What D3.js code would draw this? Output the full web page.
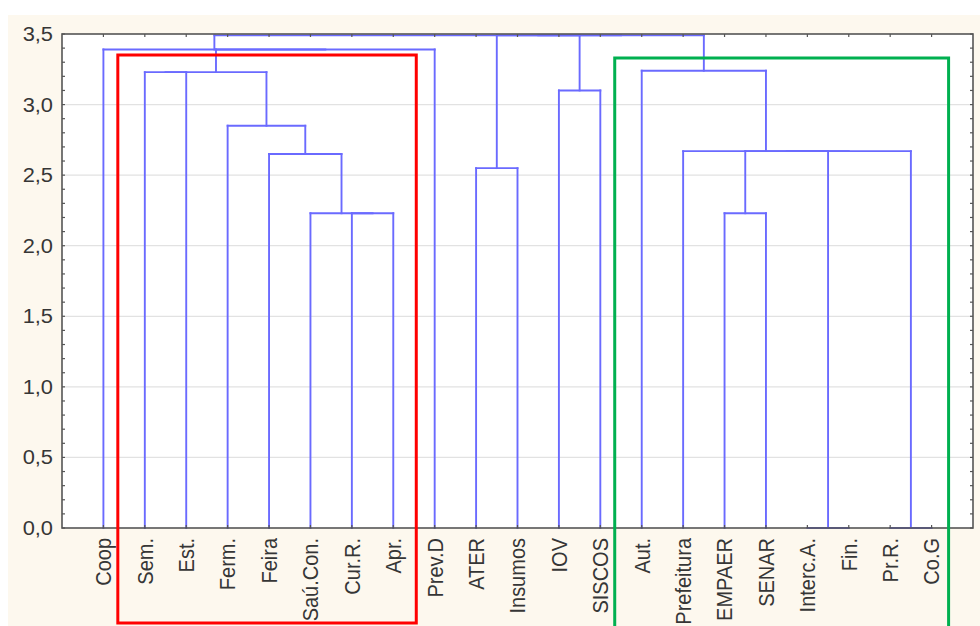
<!DOCTYPE html>
<html>
<head>
<meta charset="utf-8">
<script src="https://cdn.jsdelivr.net/npm/d3@7"></script>
<style>
  html, body { margin: 0; padding: 0; background: #ffffff; }
  svg { display: block; }
  text { font-family: "Liberation Sans", Arial, sans-serif; fill: #363636; }
</style>
</head>
<body>
<svg id="chart" width="980" height="626"></svg>
<script>
// Leaf order along the x axis
const leaves = ["Coop", "Sem.", "Est.", "Ferm.", "Feira", "Saú.Con.", "Cur.R.", "Apr.", "Prev.D",
  "ATER", "Insumos", "IOV", "SISCOS", "Aut.", "Prefeitura", "EMPAER", "SENAR",
  "Interc.A.", "Fin.", "Pr.R.", "Co.G"];

// Agglomeration steps: ids 0..20 are leaves, step k creates node 21+k
const mergeLeft   = [17, 19, 6, 5, 15, 9, 4, 25, 28, 14, 3, 11, 1, 33, 13, 34, 0, 26, 38, 37];
const mergeRight  = [18, 20, 7, 23, 16, 10, 24, 21, 22, 29, 27, 12, 2, 31, 30, 8, 36, 32, 35, 39];
const mergeHeight = [0, 0, 2.23, 2.23, 2.23, 2.55, 2.65, 2.67, 2.67, 2.67, 2.85, 3.10, 3.23, 3.23, 3.24, 3.39, 3.39, 3.49, 3.49, 3.49];

// Linkage distance axis
const yTicks = [0, 0.5, 1.0, 1.5, 2.0, 2.5, 3.0, 3.5];
const yMinorStep = 0.1;

// Highlighted groups: [first leaf, last leaf]
const groupRed = ["Sem.", "Apr."];
const groupGreen = ["Aut.", "Co.G"];

const svg = d3.select("#chart");
const W = 980, H = 626;
const plot = { left: 62, right: 973, top: 34, bottom: 528 };

// page background
svg.append("rect").attr("width", W).attr("height", H).attr("fill", "#ffffff");
svg.append("rect").attr("x", 8).attr("y", 15).attr("width", W - 8).attr("height", H - 15).attr("fill", "#fdf8ee");
svg.append("rect")
  .attr("x", plot.left).attr("y", plot.top)
  .attr("width", plot.right - plot.left).attr("height", plot.bottom - plot.top)
  .attr("fill", "#ffffff");

const x = d3.scalePoint().domain(leaves).range([plot.left, plot.right]).padding(1);
const y = d3.scaleLinear().domain([0, 3.5]).range([plot.bottom, plot.top]);

// grid lines
svg.append("g").selectAll("line").data(yTicks.slice(1, -1)).join("line")
  .attr("x1", plot.left).attr("x2", plot.right)
  .attr("y1", d => y(d)).attr("y2", d => y(d))
  .attr("stroke", "#e2e2e2").attr("stroke-width", 1.2);

// node positions: leaves sit on the point scale, clusters at the mean of their two children
const nodeX = leaves.map(d => x(d));
const nodeH = leaves.map(() => 0);
mergeLeft.forEach((l, i) => {
  const r = mergeRight[i];
  nodeX.push((nodeX[l] + nodeX[r]) / 2);
  nodeH.push(mergeHeight[i]);
});

// dendrogram links
const segs = [];
mergeLeft.forEach((l, i) => {
  const r = mergeRight[i];
  const h = mergeHeight[i];
  segs.push([nodeX[l], h, nodeX[r], h]);
  segs.push([nodeX[l], nodeH[l], nodeX[l], h]);
  segs.push([nodeX[r], nodeH[r], nodeX[r], h]);
});
svg.append("g").selectAll("line").data(segs.filter(s => !(s[0] === s[2] && s[1] === s[3]))).join("line")
  .attr("x1", s => s[0]).attr("y1", s => y(s[1]))
  .attr("x2", s => s[2]).attr("y2", s => y(s[3]))
  .attr("stroke", "#6a6aff").attr("stroke-width", 1.9).attr("stroke-linecap", "square");

// frame
svg.append("rect")
  .attr("x", plot.left).attr("y", plot.top)
  .attr("width", plot.right - plot.left).attr("height", plot.bottom - plot.top)
  .attr("fill", "none").attr("stroke", "#555").attr("stroke-width", 1.6);

// inner ticks
const minor = d3.range(0, 3.5001, yMinorStep);
const tickG = svg.append("g").attr("stroke", "#555").attr("stroke-width", 1.2);
minor.forEach(v => {
  const len = 3;
  tickG.append("line").attr("x1", plot.left).attr("x2", plot.left + len).attr("y1", y(v)).attr("y2", y(v));
  tickG.append("line").attr("x1", plot.right).attr("x2", plot.right - len).attr("y1", y(v)).attr("y2", y(v));
});
leaves.forEach(d => {
  tickG.append("line").attr("x1", x(d)).attr("x2", x(d)).attr("y1", plot.top).attr("y2", plot.top + 3);
  tickG.append("line").attr("x1", x(d)).attr("x2", x(d)).attr("y1", plot.bottom).attr("y2", plot.bottom - 3);
});

// y tick labels
const fmt = v => d3.format(".1f")(v).replace(".", ",");
svg.append("g").selectAll("text").data(yTicks).join("text")
  .attr("transform", d => `translate(53,${y(d)}) scale(1.12,1)`)
  .attr("text-anchor", "end").attr("dy", "0.36em")
  .attr("font-size", 19.5)
  .text(fmt);

// leaf labels
svg.append("g").selectAll("text").data(leaves).join("text")
  .attr("transform", d => `translate(${x(d)},538) scale(1.12,1) rotate(-90)`)
  .attr("text-anchor", "end").attr("dy", "0.35em")
  .attr("font-size", 20)
  .text(d => d);

// group boxes
svg.append("rect")
  .attr("x", x(groupRed[0]) - 27).attr("y", 55)
  .attr("width", x(groupRed[1]) - x(groupRed[0]) + 27 + 23).attr("height", 568)
  .attr("fill", "none").attr("stroke", "#ff0000").attr("stroke-width", 3);
svg.append("rect")
  .attr("x", x(groupGreen[0]) - 27).attr("y", 58)
  .attr("width", x(groupGreen[1]) - x(groupGreen[0]) + 27 + 17).attr("height", 600)
  .attr("fill", "none").attr("stroke", "#00b050").attr("stroke-width", 3);
</script>
</body>
</html>
